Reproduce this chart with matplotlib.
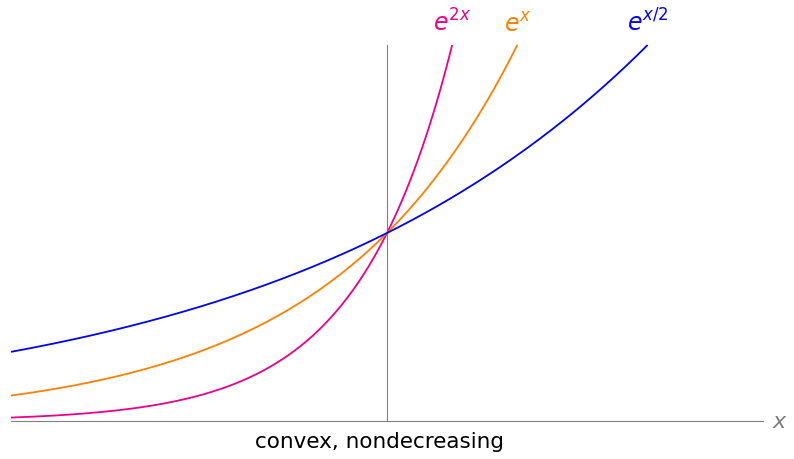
import numpy as np
import matplotlib
matplotlib.use("Agg")
import matplotlib.pyplot as plt

# curves: label, exponent factor k in exp(k*x), colour
labels = [r"$e^{2x}$", r"$e^{x}$", r"$e^{x/2}$"]
rates = [2.0, 1.0, 0.5]
colors = ["#ec008c", "#ff8000", "#0000ff"]
x_min, x_max = -2.0, 2.0
y_top = 2.0  # each curve is drawn up to this height
caption = "convex, nondecreasing"

plt.rcParams["mathtext.fontset"] = "dejavusans"

fig = plt.figure(figsize=(7.94, 4.60), dpi=100)
ax = fig.add_axes([0, 0, 1, 1])
# 188 px per unit, origin at pixel (387, 422)
ax.set_xlim(-387 / 188, (794 - 387) / 188)
ax.set_ylim(-38 / 188, 422 / 188)
ax.axis("off")

# axes
ax.plot([x_min, x_max], [0, 0], color="#808080", lw=0.8)
ax.plot([0, 0], [0, y_top], color="#808080", lw=0.8)
ax.text(x_max + 0.05, 0, "$x$", color="#808080", fontsize=16,
        ha="left", va="center")

for lab, k, c in zip(labels, rates, colors):
    x_end = np.log(y_top) / k
    xs = np.linspace(x_min, x_end, 300)
    ax.plot(xs, np.exp(k * xs), color=c, lw=1.3, solid_capstyle="butt")
    ax.text(x_end, y_top + 0.05, lab, color=c, fontsize=17,
            ha="center", va="bottom")

ax.text(-7 / 188, -0.105, caption, fontsize=15.5, ha="center", va="center")

fig.savefig("out.png", dpi=100)
